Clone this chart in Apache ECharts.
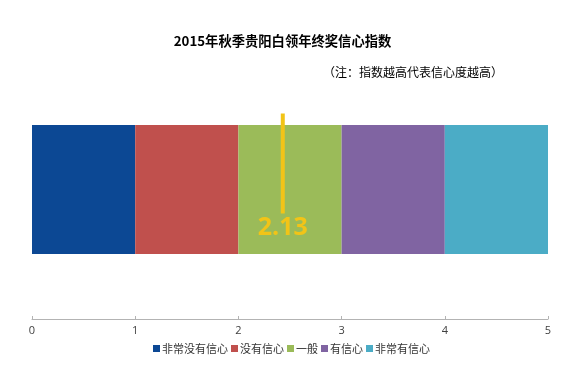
<!DOCTYPE html>
<html>
<head>
<meta charset="utf-8">
<script src="https://cdn.jsdelivr.net/npm/echarts@6/dist/echarts.min.js"></script>
<style>html,body{margin:0;padding:0;background:#fff}#c{width:565px;height:367px}</style>
</head>
<body>
<div id="c"></div>
<script>
const categories = ['指数'];
const seriesNames = ['非常没有信心', '没有信心', '一般', '有信心', '非常有信心'];
const seriesValues = [1, 1, 1, 1, 1];
const seriesColors = ['#0C4894', '#C0504D', '#9BBB59', '#8064A2', '#4BACC6'];
const xTicks = [0, 1, 2, 3, 4, 5];
const markerPos = [2.43];
const markerLabel = ['2.13'];

const chart = echarts.init(document.getElementById('c'), null, {renderer: 'canvas'});
const fontCJK = '"Noto Sans CJK SC", "Microsoft YaHei", sans-serif';
const yellow = '#F2C417';

const series = seriesNames.map((n, i) => ({
  name: n,
  type: 'bar',
  stack: 'all',
  barWidth: 129,
  data: [seriesValues[i]],
  itemStyle: {color: seriesColors[i]},
  emphasis: {disabled: true}
}));

series.push({
  name: 'marker',
  type: 'custom',
  z: 10,
  data: markerPos.map((v, i) => [v, 0, i]),
  renderItem: function (params, api) {
    const p = api.coord([api.value(0), api.value(1)]);
    const idx = api.value(2);
    return {
      type: 'group',
      children: [
        {type: 'rect', shape: {x: p[0] - 2, y: p[1] - 76, width: 4, height: 100}, style: {fill: yellow}},
        {type: 'text', style: {text: markerLabel[idx], x: p[0], y: p[1] + 38, fill: yellow,
          font: 'bold 25px "Open Sans", "Liberation Sans", sans-serif', align: 'center', verticalAlign: 'middle'}}
      ]
    };
  }
});

chart.setOption({
  animation: false,
  title: [
    {text: '2015年秋季贵阳白领年终奖信心指数', left: 'center', top: 29,
     textStyle: {fontFamily: fontCJK, fontSize: 13.3, fontWeight: 'bold', color: '#000'}},
    {text: '（注：指数越高代表信心度越高）', left: 318, top: 61,
     textStyle: {fontFamily: fontCJK, fontSize: 12, fontWeight: 'normal', color: '#000'}}
  ],
  legend: {
    data: seriesNames,
    bottom: 8,
    left: 148,
    icon: 'rect',
    itemWidth: 7,
    itemHeight: 7,
    itemGap: 3,
    textStyle: {fontFamily: fontCJK, fontSize: 11, color: '#333', padding: [0, 0, 0, -3]}
  },
  grid: {left: 32, right: 17, top: 60, bottom: 48, containLabel: false},
  xAxis: {
    type: 'value',
    min: xTicks[0],
    max: xTicks[xTicks.length - 1],
    interval: 1,
    axisLine: {show: true, lineStyle: {color: '#B3B3B3', width: 1}},
    axisTick: {show: true, inside: true, length: 3, lineStyle: {color: '#B3B3B3'}},
    splitLine: {show: false},
    axisLabel: {color: '#404040', fontSize: 11, margin: 6, fontFamily: '"Open Sans", "Liberation Sans", sans-serif'}
  },
  yAxis: {
    type: 'category',
    data: categories,
    show: false
  },
  series: series
});
</script>
</body>
</html>
